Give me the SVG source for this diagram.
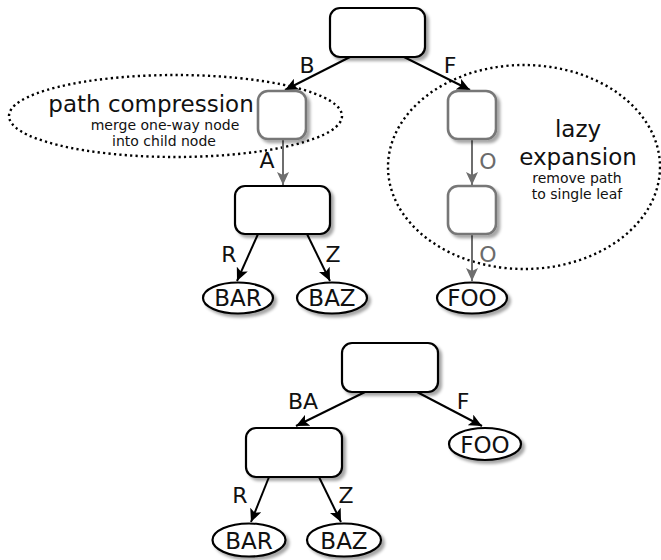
<svg xmlns="http://www.w3.org/2000/svg" width="661" height="560" viewBox="0 0 661 560">
<defs>
<filter id="sh" x="-20%" y="-20%" width="150%" height="150%">
<feDropShadow dx="3" dy="3" stdDeviation="1.6" flood-color="#000" flood-opacity="0.35"/>
</filter>
<marker id="ah" markerWidth="14" markerHeight="12" refX="13" refY="6" orient="auto" markerUnits="userSpaceOnUse">
<path d="M0,0 L13,6 L0,12 L3,6 z" fill="#000"/>
</marker>
<marker id="ahg" markerWidth="14" markerHeight="12" refX="13" refY="6" orient="auto" markerUnits="userSpaceOnUse">
<path d="M0,0 L13,6 L0,12 L3,6 z" fill="#6e6e6e"/>
</marker>
</defs>
<style>
.n{fill:#fff;stroke:#000;stroke-width:2.2;filter:url(#sh)}
.g{fill:#fff;stroke:#777;stroke-width:2.6;filter:url(#sh)}
.e{stroke:#000;stroke-width:2;fill:none;marker-end:url(#ah)}
.eg{stroke:#6e6e6e;stroke-width:2;fill:none;marker-end:url(#ahg)}
.dot{fill:none;stroke:#000;stroke-width:2.4;stroke-dasharray:2.2 3.2}
text{font-family:"DejaVu Sans","Liberation Sans",sans-serif;fill:#111}
.lbl{font-size:22px;text-anchor:middle}
.lg{font-size:22px;text-anchor:middle;fill:#6b6b6b}
.big{font-size:23px;text-anchor:middle}
.sm{font-size:14px;text-anchor:middle}
.leaf{font-size:23px;text-anchor:middle}
</style>

<g id="annot-path-compression">
<ellipse class="dot" cx="175.5" cy="116" rx="166.5" ry="41"/>
<text class="big" x="151" y="112">path compression</text>
<text class="sm" x="165" y="130">merge one-way node</text>
<text class="sm" x="164" y="146">into child node</text>
</g>
<g id="annot-lazy-expansion">
<ellipse class="dot" cx="524" cy="167" rx="136" ry="102"/>
<text class="big" x="578" y="137">lazy</text>
<text class="big" x="578" y="165">expansion</text>
<text class="sm" x="577" y="183">remove path</text>
<text class="sm" x="577" y="199">to single leaf</text>
</g>

<g id="connectors">
<line class="e" x1="350" y1="57" x2="285" y2="90"/>
<line class="e" x1="404" y1="57" x2="470" y2="90"/>
<line class="eg" x1="283" y1="140" x2="283" y2="185"/>
<line class="e" x1="258" y1="234" x2="237" y2="281"/>
<line class="e" x1="307" y1="234" x2="330" y2="281"/>
<line class="eg" x1="472" y1="140" x2="472" y2="185"/>
<line class="eg" x1="472" y1="235" x2="472" y2="281"/>
<line class="e" x1="365" y1="392" x2="296" y2="426"/>
<line class="e" x1="417" y1="392" x2="482" y2="426"/>
<line class="e" x1="269" y1="477" x2="251" y2="522"/>
<line class="e" x1="319" y1="477" x2="341" y2="522"/>
<text class="lbl" x="307" y="73">B</text>
<text class="lbl" x="450" y="73">F</text>
<text class="lbl" x="267" y="168">A</text>
<text class="lbl" x="229" y="262">R</text>
<text class="lbl" x="333" y="262">Z</text>
<text class="lg" x="488" y="169">O</text>
<text class="lg" x="488" y="262">O</text>
<text class="lbl" x="303" y="409">BA</text>
<text class="lbl" x="463" y="409">F</text>
<text class="lbl" x="240" y="503">R</text>
<text class="lbl" x="346" y="503">Z</text>
</g>

<g id="top-root"><rect class="n" x="330" y="8" width="95" height="49" rx="10"/></g>
<g id="top-b"><rect class="g" x="258" y="91" width="48" height="48" rx="10"/></g>
<g id="top-f"><rect class="g" x="448" y="91" width="48" height="48" rx="10"/></g>
<g id="top-ba"><rect class="n" x="235" y="186" width="95" height="48" rx="10"/></g>
<g id="top-fo"><rect class="g" x="448" y="186" width="48" height="48" rx="10"/></g>
<g id="top-bar"><ellipse class="n" cx="238" cy="298" rx="35" ry="15.5"/><text class="leaf" x="238" y="306">BAR</text></g>
<g id="top-baz"><ellipse class="n" cx="332" cy="298" rx="35" ry="15.5"/><text class="leaf" x="332" y="306">BAZ</text></g>
<g id="top-foo"><ellipse class="n" cx="472" cy="298" rx="35" ry="15.5"/><text class="leaf" x="472" y="306">FOO</text></g>

<g id="bot-root"><rect class="n" x="342" y="343" width="96" height="49" rx="10"/></g>
<g id="bot-ba"><rect class="n" x="246" y="428" width="96" height="49" rx="10"/></g>
<g id="bot-foo"><ellipse class="n" cx="485" cy="444" rx="36" ry="16"/><text class="leaf" x="485" y="452.5">FOO</text></g>
<g id="bot-bar"><ellipse class="n" cx="249" cy="540" rx="36.5" ry="16.5"/><text class="leaf" x="249" y="548.5">BAR</text></g>
<g id="bot-baz"><ellipse class="n" cx="344" cy="540" rx="37" ry="16.5"/><text class="leaf" x="344" y="548.5">BAZ</text></g>
</svg>
